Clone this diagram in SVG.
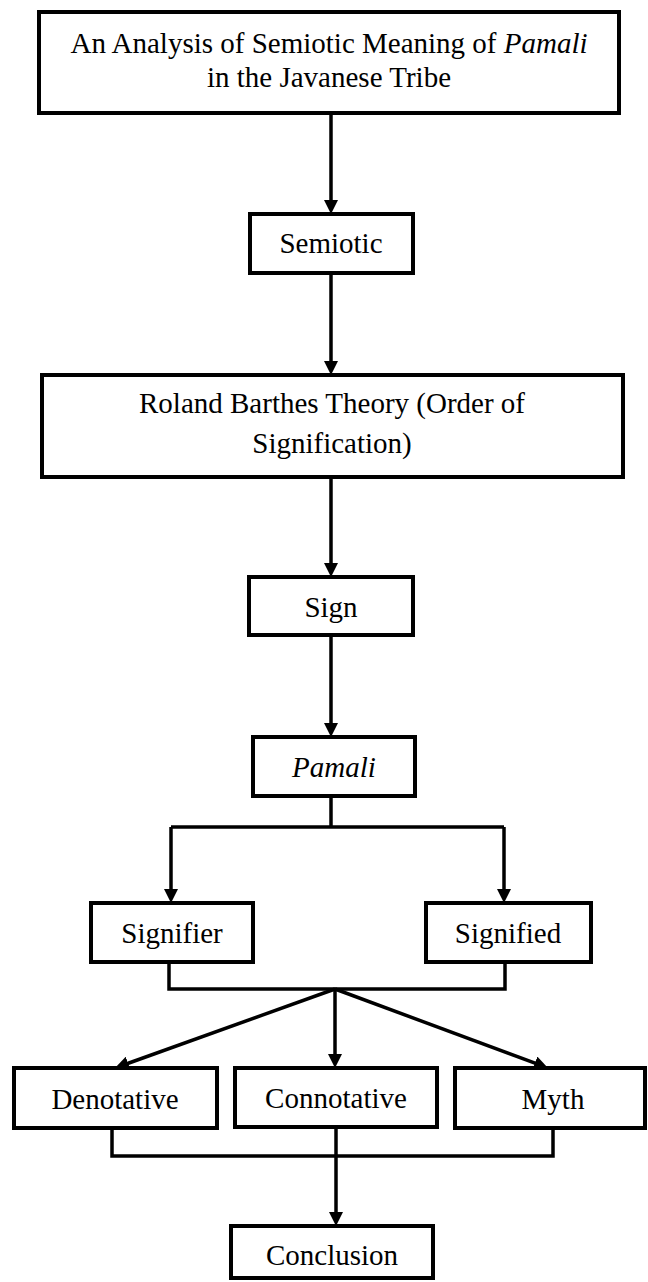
<svg xmlns="http://www.w3.org/2000/svg" width="648" height="1282" viewBox="0 0 648 1282">
<style>
.box{fill:#fff;stroke:#000;stroke-width:4}
.t{font-size:29px;fill:#000;text-anchor:middle}
.c{fill:none;stroke:#000;stroke-width:3.5}
.a{marker-end:url(#arr)}
</style>
<defs>
<marker id="arr" viewBox="0 0 14 14" refX="8" refY="7" markerWidth="14" markerHeight="14" markerUnits="userSpaceOnUse" orient="auto">
<path d="M0,0 L14,7 L0,14 z" fill="#000"/>
</marker>
</defs>
<rect width="648" height="1282" fill="#fff"/>
<g id="connectors">
<line class="c a" x1="331" y1="113" x2="331" y2="208"/>
<line class="c a" x1="331" y1="273" x2="331" y2="369"/>
<line class="c a" x1="331" y1="477" x2="331" y2="571"/>
<line class="c a" x1="331" y1="635" x2="331" y2="731"/>
<polyline class="c" points="331,796 331,827"/>
<polyline class="c" points="171,827 504,827"/>
<line class="c a" x1="171" y1="827" x2="171" y2="897"/>
<line class="c a" x1="504" y1="827" x2="504" y2="897"/>
<polyline class="c" points="169,962 169,989 505,989 505,962"/>
<line class="c a" x1="335" y1="989" x2="120.6" y2="1066"/>
<line class="c a" x1="335" y1="989" x2="335" y2="1062"/>
<line class="c a" x1="335" y1="989" x2="542.4" y2="1065.9"/>
<polyline class="c" points="112,1128 112,1156 553,1156 553,1128"/>
<line class="c a" x1="336" y1="1127" x2="336" y2="1220"/>
</g>
<g font-family="'Liberation Serif', 'Times New Roman', 'DejaVu Serif', serif">
<g id="title">
<rect class="box" x="39" y="12" width="580" height="101"/>
<text class="t" x="329" y="53">An Analysis of Semiotic Meaning of <tspan font-style="italic">Pamali</tspan></text>
<text class="t" x="329" y="87">in the Javanese Tribe</text>
</g>
<g id="semiotic">
<rect class="box" x="250" y="214" width="163" height="59"/>
<text class="t" x="331" y="253">Semiotic</text>
</g>
<g id="roland">
<rect class="box" x="42" y="375" width="581" height="102"/>
<text class="t" x="332" y="413">Roland Barthes Theory (Order of</text>
<text class="t" x="332" y="453">Signification)</text>
</g>
<g id="sign">
<rect class="box" x="249" y="577" width="164" height="58"/>
<text class="t" x="331" y="617">Sign</text>
</g>
<g id="pamali">
<rect class="box" x="253" y="737" width="162" height="59"/>
<text class="t" x="334" y="777" font-style="italic">Pamali</text>
</g>
<g id="signifier">
<rect class="box" x="91" y="903" width="162" height="59"/>
<text class="t" x="172" y="943">Signifier</text>
</g>
<g id="signified">
<rect class="box" x="426" y="903" width="165" height="59"/>
<text class="t" x="508" y="943">Signified</text>
</g>
<g id="denotative">
<rect class="box" x="14" y="1068" width="203" height="60"/>
<text class="t" x="115" y="1109">Denotative</text>
</g>
<g id="connotative">
<rect class="box" x="235" y="1068" width="202" height="59"/>
<text class="t" x="336" y="1108">Connotative</text>
</g>
<g id="myth">
<rect class="box" x="455" y="1068" width="190" height="60"/>
<text class="t" x="553" y="1109">Myth</text>
</g>
<g id="conclusion">
<rect class="box" x="231" y="1226" width="202" height="52"/>
<text class="t" x="332" y="1265">Conclusion</text>
</g>
</g>
</svg>
